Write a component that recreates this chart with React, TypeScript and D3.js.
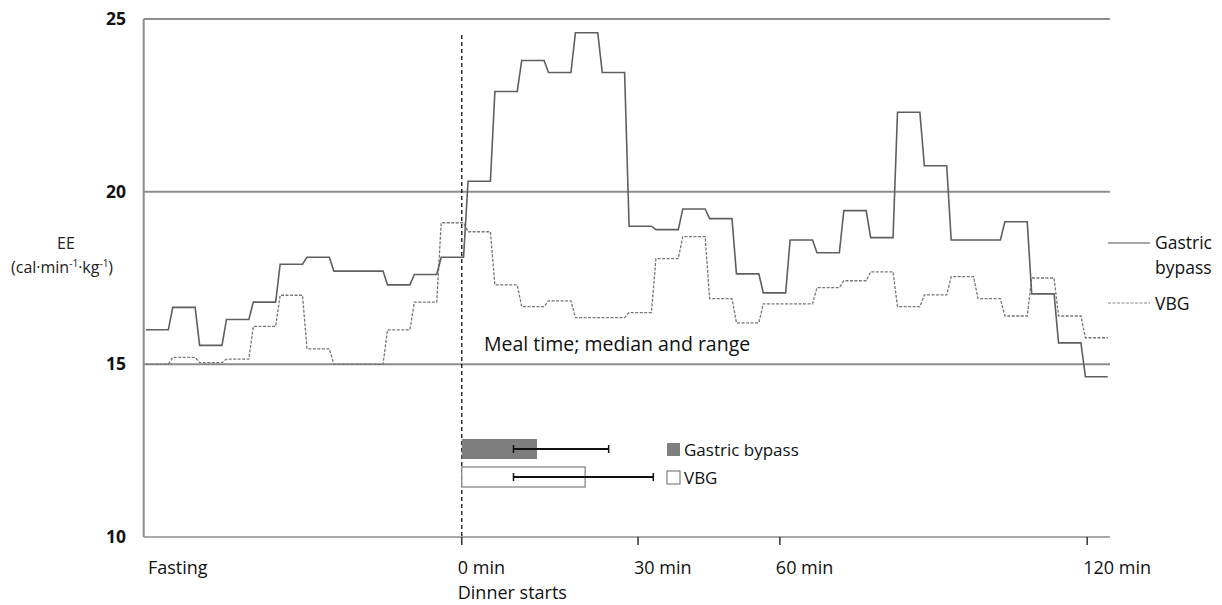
import * as d3 from 'd3';

// block values (each block = 6 samples), 12 fasting blocks then 24 after dinner starts
const gastricBypass = [
  16.0, 16.65, 15.55, 16.3, 16.8, 17.9, 18.1, 17.7, 17.7, 17.3, 17.6, 18.1,
  20.3, 22.9, 23.8, 23.45, 24.6, 23.45, 19.0, 18.9, 19.5, 19.22, 17.62, 17.07,
  18.6, 18.23, 19.45, 18.67, 22.3, 20.75, 18.6, 18.6, 19.13, 17.04, 15.62, 14.64,
];
const vbg = [
  15.0, 15.2, 15.05, 15.15, 16.1, 17.0, 15.45, 15.0, 15.0, 16.0, 16.8, 19.1,
  18.84, 17.3, 16.67, 16.84, 16.35, 16.35, 16.5, 18.06, 18.7, 16.9, 16.2, 16.75,
  16.75, 17.22, 17.42, 17.68, 16.67, 17.01, 17.54, 16.9, 16.4, 17.5, 16.4, 15.77,
];
const samplesPerBlock = 6;

const yTicks = [10, 15, 20, 25];
const gridValues = [15, 20, 25];
const xTickLabels = ['0 min', '30 min', '60 min', '120 min'];
const xTickSamples = [71.1, 110.5, 142.2, 210.9];

// meal time, minutes
const mealGroups = ['Gastric bypass', 'VBG'];
const mealMedian = [12.8, 21.0];
const mealMin = [8.8, 8.8];
const mealMax = [25.0, 32.6];

export default function App() {
  const W = 1222;
  const H = 605;
  const left = 143.7;
  const right = 1110;
  const top = 19;
  const bottom = 537;
  const nSamples = gastricBypass.length * samplesPerBlock;

  const x = d3.scaleLinear().domain([0, nSamples]).range([left, right]);
  const y = d3.scaleLinear().domain([10, 25]).range([bottom, top]);
  const meal = d3.scaleLinear().domain([0, 30]).range([x(xTickSamples[0]), x(xTickSamples[1])]);

  const toPoints = (vals: number[]) =>
    vals.flatMap((v, k) => [
      [k * samplesPerBlock + 0.5, v],
      [k * samplesPerBlock + samplesPerBlock - 0.5, v],
    ]);
  const line = d3.line<number[]>().x(d => x(d[0])).y(d => y(d[1]));

  const font = '"Open Sans", Lato, sans-serif';
  const axisColor = '#8c8c8c';
  const x0 = x(xTickSamples[0]);
  const barY = [439, 467];
  const barH = 20;

  return (
    <svg width={W} height={H} style={{ position: 'absolute', left: 0, top: 0 }} fontFamily={font}>
      <rect width={W} height={H} fill="#fff" />
      {/* grid */}
      {gridValues.map(v => (
        <line key={v} x1={left} x2={right} y1={y(v)} y2={y(v)} stroke={axisColor} strokeWidth={2} />
      ))}
      {/* axes */}
      <line x1={left} x2={left} y1={top} y2={bottom} stroke={axisColor} strokeWidth={2} />
      <line x1={left} x2={right} y1={bottom} y2={bottom} stroke={axisColor} strokeWidth={1.5} />
      {xTickSamples.map((s, i) => (
        <g key={i}>
          <line x1={x(s)} x2={x(s)} y1={bottom} y2={bottom + 8} stroke="#333" strokeWidth={1.5} />
          <text x={x(s) - 4} y={574} fontSize={18} fill="#111">{xTickLabels[i]}</text>
        </g>
      ))}
      <text x={148} y={574} fontSize={18} fill="#111">Fasting</text>
      <text x={x0 - 4} y={599} fontSize={18} fill="#111">Dinner starts</text>
      {yTicks.map(v => (
        <text key={v} x={126} y={y(v) + 6} fontSize={17.5} fontWeight="bold" textAnchor="end" fill="#111">{v}</text>
      ))}
      <text x={66} y={249} fontSize={16} textAnchor="middle" fill="#222">EE</text>
      <text x={11} y={273} fontSize={16} fill="#222">
        (cal·min<tspan fontSize={10} dy={-6}>-1</tspan><tspan dy={6}>·kg</tspan><tspan fontSize={10} dy={-6}>-1</tspan><tspan dy={6}>)</tspan>
      </text>

      {/* series */}
      <path d={line(toPoints(vbg)) ?? ''} fill="none" stroke="#777" strokeWidth={1.3} strokeDasharray="3,1.5" />
      <path d={line(toPoints(gastricBypass)) ?? ''} fill="none" stroke="#5f5f5f" strokeWidth={1.6} />

      {/* dinner line */}
      <line x1={x0} x2={x0} y1={35} y2={bottom} stroke="#111" strokeWidth={1.3} strokeDasharray="4,3" />

      {/* right legend */}
      <line x1={1108} x2={1150} y1={243} y2={243} stroke="#8a8a8a" strokeWidth={1.6} />
      <text x={1155} y={249} fontSize={17.5} fill="#111">Gastric</text>
      <text x={1155} y={274} fontSize={17.5} fill="#111">bypass</text>
      <line x1={1108} x2={1150} y1={303} y2={303} stroke="#8a8a8a" strokeWidth={1.2} strokeDasharray="3,1.5" />
      <text x={1155} y={310} fontSize={17.5} fill="#111">VBG</text>

      {/* meal time */}
      <text x={484} y={351} fontSize={19.5} fill="#111">Meal time; median and range</text>
      {mealGroups.map((g, i) => (
        <g key={g}>
          <rect x={meal(0)} y={barY[i]} width={meal(mealMedian[i]) - meal(0)} height={barH}
            fill={i === 0 ? '#7f7f7f' : '#fff'} stroke={i === 0 ? 'none' : '#888'} strokeWidth={1.3} />
          <line x1={meal(mealMin[i])} x2={meal(mealMax[i])} y1={barY[i] + barH / 2} y2={barY[i] + barH / 2} stroke="#111" strokeWidth={2} />
          <line x1={meal(mealMin[i])} x2={meal(mealMin[i])} y1={barY[i] + barH / 2 - 4} y2={barY[i] + barH / 2 + 4} stroke="#111" strokeWidth={1.5} />
          <line x1={meal(mealMax[i])} x2={meal(mealMax[i])} y1={barY[i] + barH / 2 - 4} y2={barY[i] + barH / 2 + 4} stroke="#111" strokeWidth={1.5} />
          <rect x={667} y={barY[i] + 4} width={13} height={13} fill={i === 0 ? '#7f7f7f' : '#fff'} stroke={i === 0 ? 'none' : '#666'} strokeWidth={1} />
          <text x={684} y={barY[i] + 17} fontSize={17} fill="#111">{g}</text>
        </g>
      ))}
    </svg>
  );
}
